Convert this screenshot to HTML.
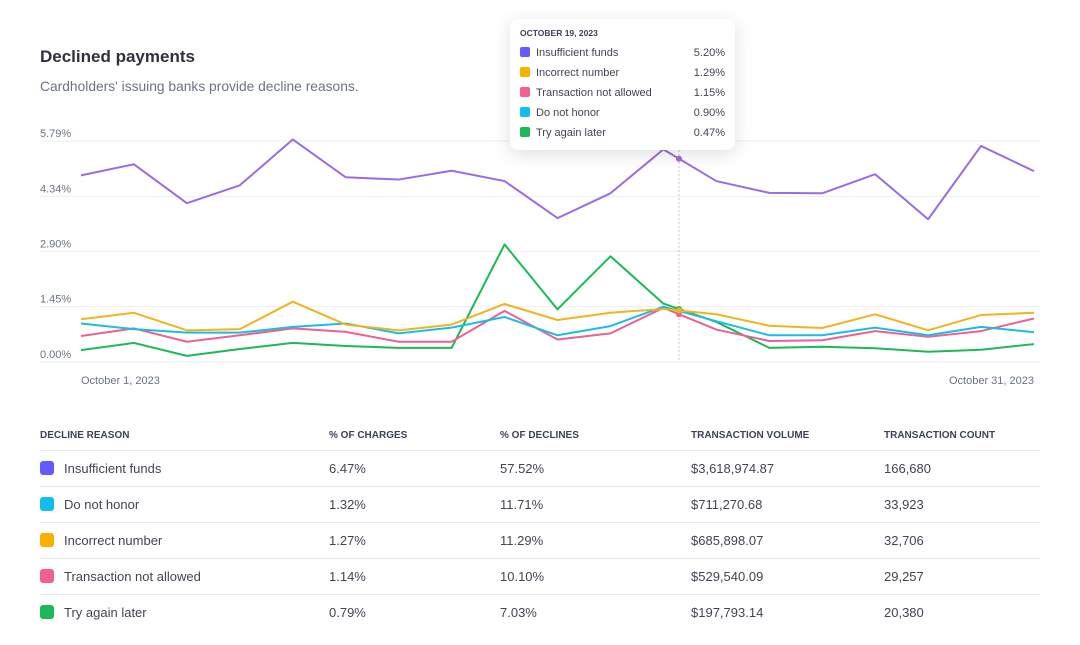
<!DOCTYPE html>
<html><head><meta charset="utf-8"><style>
body{margin:0;width:1080px;height:645px;background:#fff;font-family:"Liberation Sans",sans-serif;color:#414552;position:relative;overflow:hidden}
.abs{position:absolute}
h1{position:absolute;left:40px;top:47px;margin:0;font-size:17px;font-weight:bold;color:#30313d}
.sub{left:40px;top:79px;font-size:13.8px;color:#6a7383}
.tip{left:510px;top:19px;width:225px;height:131px;background:#fff;border-radius:8px;box-shadow:0 4px 18px rgba(0,0,0,0.13)}
.tt{position:absolute;left:10px;top:9px;font-size:8.5px;font-weight:bold;color:#3c4257}
.tr{position:absolute;left:10px;width:205px;font-size:11px;height:14px;line-height:14px;color:#414552}
.tr i{display:inline-block;width:10px;height:10px;border-radius:2px;vertical-align:-1px;margin-right:6px}
.tr b{position:absolute;right:0;font-weight:normal}
table{position:absolute;left:40px;top:420px;width:1000px;border-collapse:collapse}
th{font-size:10px;font-weight:bold;color:#3c4257;text-align:left;height:30px;padding:0;border-bottom:1px solid #e3e8ee}
td{font-size:13px;height:35px;padding:0;border-bottom:1px solid #e3e8ee;color:#414552}
tr:last-child td{border-bottom:none}
td i{display:inline-block;width:14px;height:14px;border-radius:3px;vertical-align:-2px;margin-right:10px}
</style></head><body>
<h1>Declined payments</h1>
<div class="abs sub">Cardholders' issuing banks provide decline reasons.</div>
<svg id="chart" class="abs" style="left:0;top:0" width="1080" height="400"></svg>
<div class="abs tip">
<div class="tt">OCTOBER 19, 2023</div>
<div class="tr" style="top:27px"><i style="background:#635bff"></i>Insufficient funds<b>5.20%</b></div>
<div class="tr" style="top:47px"><i style="background:#f5b000"></i>Incorrect number<b>1.29%</b></div>
<div class="tr" style="top:67px"><i style="background:#f2608f"></i>Transaction not allowed<b>1.15%</b></div>
<div class="tr" style="top:87px"><i style="background:#13bdf0"></i>Do not honor<b>0.90%</b></div>
<div class="tr" style="top:107px"><i style="background:#1db954"></i>Try again later<b>0.47%</b></div>
</div>
<table>
<colgroup><col style="width:289px"><col style="width:171px"><col style="width:191px"><col style="width:193px"><col></colgroup>
<tr><th>DECLINE REASON</th><th>% OF CHARGES</th><th>% OF DECLINES</th><th>TRANSACTION VOLUME</th><th>TRANSACTION COUNT</th></tr>
<tr><td><i style="background:#635bff"></i>Insufficient funds</td><td>6.47%</td><td>57.52%</td><td>$3,618,974.87</td><td>166,680</td></tr>
<tr><td><i style="background:#13bdf0"></i>Do not honor</td><td>1.32%</td><td>11.71%</td><td>$711,270.68</td><td>33,923</td></tr>
<tr><td><i style="background:#f5b000"></i>Incorrect number</td><td>1.27%</td><td>11.29%</td><td>$685,898.07</td><td>32,706</td></tr>
<tr><td><i style="background:#f2608f"></i>Transaction not allowed</td><td>1.14%</td><td>10.10%</td><td>$529,540.09</td><td>29,257</td></tr>
<tr><td><i style="background:#1db954"></i>Try again later</td><td>0.79%</td><td>7.03%</td><td>$197,793.14</td><td>20,380</td></tr>
</table>
<script>
const tickLabels=["0.00%","1.45%","2.90%","4.34%","5.79%"];
const tickValues=[0,1.45,2.9,4.34,5.79];
const insufficient=[4.89,5.18,4.16,4.63,5.83,4.84,4.78,5.01,4.74,3.77,4.42,5.57,4.74,4.43,4.42,4.92,3.74,5.66,5.00];
const incorrect=[1.12,1.29,0.83,0.86,1.58,0.98,0.83,0.98,1.52,1.10,1.29,1.39,1.25,0.95,0.89,1.25,0.83,1.23,1.29];
const doNotHonor=[1.01,0.86,0.77,0.77,0.92,1.01,0.75,0.90,1.18,0.70,0.94,1.45,1.07,0.70,0.70,0.90,0.70,0.92,0.78];
const notAllowed=[0.68,0.88,0.53,0.70,0.88,0.79,0.53,0.53,1.34,0.59,0.75,1.42,0.85,0.55,0.57,0.81,0.66,0.81,1.14];
const tryAgain=[0.31,0.50,0.16,0.34,0.50,0.42,0.37,0.37,3.08,1.38,2.77,1.53,1.05,0.37,0.40,0.36,0.27,0.32,0.47];
const NS="http://www.w3.org/2000/svg";
const svg=document.getElementById('chart');
const X0=81,X1=1034,Y0=362,Y1=141,VMAX=5.79;
const xs=i=>X0+(X1-X0)*i/(insufficient.length-1);
const ys=v=>Y0-(Y0-Y1)*v/VMAX;
function mk(t,a){const e=document.createElementNS(NS,t);for(const k in a)e.setAttribute(k,a[k]);svg.appendChild(e);return e;}
tickValues.forEach((v,i)=>{
 const l=mk('line',{x1:40,x2:1040,y1:ys(v),y2:ys(v),stroke:'#ebeef1','stroke-width':1});
 
 
 const t=mk('text',{x:40,y:ys(v)-4,'font-size':11,fill:'#6a7383','font-family':'Liberation Sans, sans-serif'});
 t.textContent=tickLabels[i];
 
 
});
const hx=679;
const hl=mk('line',{x1:hx,x2:hx,y1:150,y2:Y0,stroke:'#c4c9d1','stroke-dasharray':'2,2'});


const series=[[tryAgain,'#1db954','series-try-again-later'],[notAllowed,'#ee5f93','series-transaction-not-allowed'],[doNotHonor,'#17bfe8','series-do-not-honor'],[incorrect,'#f2b31f','series-incorrect-number'],[insufficient,'#9a6be6','series-insufficient-funds']];
series.forEach(([d,c,n])=>{
 const p=mk('polyline',{points:d.map((v,i)=>xs(i)+','+ys(v)).join(' '),fill:'none',stroke:c,'stroke-width':2,'stroke-linejoin':'round'});
 
 
 const f=(hx-X0)/((X1-X0)/(d.length-1)),i=Math.floor(f),r=f-i;
 const v=d[i]*(1-r)+d[i+1]*r;
 const dot=mk('circle',{cx:hx,cy:ys(v),r:3,fill:c});
 
 
});
[[81,'start','October 1, 2023'],[1034,'end','October 31, 2023']].forEach(([x,a,s])=>{
 const t=mk('text',{x:x,y:384,'text-anchor':a,'font-size':11,fill:'#6a7383','font-family':'Liberation Sans, sans-serif'});
 t.textContent=s;
 
 
});
</script>
</body></html>
